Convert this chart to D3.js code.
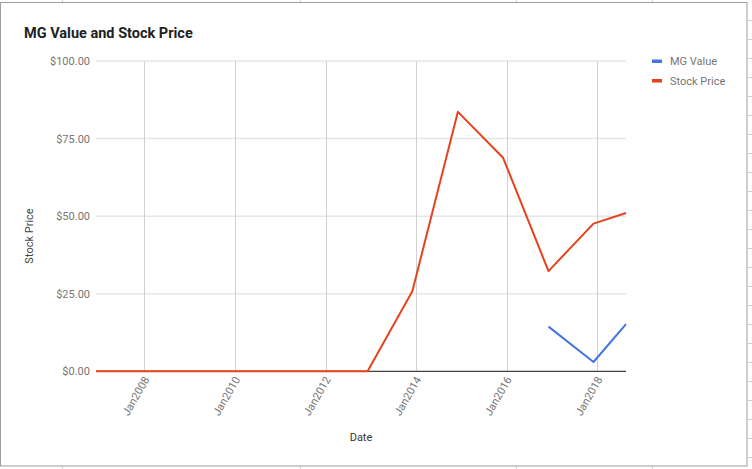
<!DOCTYPE html>
<html>
<head>
<meta charset="utf-8">
<script src="https://cdn.jsdelivr.net/npm/d3@7/dist/d3.min.js"></script>
<style>
  html, body { margin: 0; padding: 0; background: #fff; }
  svg { display: block; font-family: Roboto, "Noto Sans", Arial, sans-serif; }
</style>
</head>
<body>
<svg id="chart" width="752" height="469"></svg>
<script>
// ---- data ----
const dates = ["2006-12-07","2007-12-05","2008-12-05","2009-12-05","2010-12-05","2011-12-05",
               "2012-12-05","2013-12-01","2014-12-03","2015-12-03","2016-12-03","2017-12-01","2018-08-20"];
const stockPrice = [0, 0, 0, 0, 0, 0, 0, 25.8, 83.6, 68.8, 32.3, 47.6, 51.0];
const mgValue = [null, null, null, null, null, null, null, null, null, null, 14.4, 3.0, 15.2];
const yTicks = [0, 25, 50, 75, 100];
const xTickYears = [2008, 2010, 2012, 2014, 2016, 2018];
const seriesNames = ["MG Value", "Stock Price"];
const seriesColors = ["#4374e0", "#e4431d"];
const titleText = "MG Value and Stock Price";
const xTitle = "Date";
const yTitle = "Stock Price";

// ---- layout ----
const svg = d3.select("#chart");
const parse = d3.timeParse("%Y-%m-%d");
const parsedDates = dates.map(parse);
const plot = { left: 96, right: 626, top: 61, bottom: 371.3 };

// frame
svg.append("rect").attr("x", 0.5).attr("y", 2.5).attr("width", 746.5).attr("height", 463.5)
  .attr("fill", "#fff").attr("stroke", "#9e9e9e").attr("stroke-width", 1);
// decorative spreadsheet ticks outside frame
[62, 300, 516, 652].forEach(x => {
  svg.append("line").attr("x1", x + 0.5).attr("x2", x + 0.5).attr("y1", 0).attr("y2", 2)
    .attr("stroke", "#d0d0d0");
  svg.append("line").attr("x1", x + 0.5).attr("x2", x + 0.5).attr("y1", 467).attr("y2", 469)
    .attr("stroke", "#d0d0d0");
});
d3.range(20, 466, 19).forEach(y => {
  svg.append("line").attr("x1", 748).attr("x2", 752).attr("y1", y + 0.5).attr("y2", y + 0.5)
    .attr("stroke", "#d0d0d0");
});

const x = d3.scaleTime().domain(d3.extent(parsedDates)).range([plot.left, plot.right]);
const y = d3.scaleLinear().domain([0, 100]).range([plot.bottom, plot.top]);

// horizontal gridlines
svg.append("g").selectAll("line").data(yTicks.filter(d => d > 0)).join("line")
  .attr("x1", plot.left).attr("x2", plot.right)
  .attr("y1", d => y(d)).attr("y2", d => y(d))
  .attr("stroke", "#e6e6e6").attr("stroke-width", 1.5);

// vertical gridlines
const xTickDates = xTickYears.map(yr => new Date(yr, 0, 1));
svg.append("g").selectAll("line").data(xTickDates).join("line")
  .attr("x1", d => Math.round(x(d)) + 0.5).attr("x2", d => Math.round(x(d)) + 0.5)
  .attr("y1", plot.top).attr("y2", plot.bottom)
  .attr("stroke", "#d0d0d0").attr("stroke-width", 1);

// y axis labels
const yAxis = d3.axisLeft(y).tickValues(yTicks).tickSize(0).tickPadding(6)
  .tickFormat(d => "$" + d3.format(".2f")(d));
const gy = svg.append("g").attr("transform", `translate(${plot.left},0)`).call(yAxis);
gy.select(".domain").remove();
gy.selectAll("text").attr("fill", "#757575").style("font-size", "11px")
  .style("font-family", "Roboto, sans-serif");

// baseline
svg.append("line").attr("x1", plot.left).attr("x2", plot.right)
  .attr("y1", y(0)).attr("y2", y(0)).attr("stroke", "#424242").attr("stroke-width", 1.2);

// x axis labels
const xAxis = d3.axisBottom(x).tickValues(xTickDates).tickSize(0).tickPadding(0)
  .tickFormat(d3.timeFormat("%b%Y"));
const gx = svg.append("g").attr("transform", `translate(0,${plot.bottom})`).call(xAxis);
gx.select(".domain").remove();
gx.selectAll("text")
  .attr("fill", "#757575").style("font-size", "11px").style("font-family", "Roboto, sans-serif")
  .attr("text-anchor", "end").attr("dy", null).attr("y", 0)
  .attr("transform", "translate(5,8) rotate(-60)");

// lines
const series = [mgValue, stockPrice];
const lineGen = d3.line()
  .defined(d => d.v !== null)
  .x(d => x(d.t)).y(d => y(d.v));
series.forEach((vals, i) => {
  const pts = vals.map((v, j) => ({ t: parsedDates[j], v }));
  svg.append("path").datum(pts).attr("d", lineGen)
    .attr("fill", "none").attr("stroke", seriesColors[i]).attr("stroke-width", 2)
    .attr("stroke-linejoin", "round");
});

// title
svg.append("text").attr("x", 24).attr("y", 38).text(titleText)
  .attr("fill", "#222").style("font-size", "14.5px").style("font-weight", "bold");

// axis titles
svg.append("text").attr("x", 361).attr("y", 441).attr("text-anchor", "middle").text(xTitle)
  .attr("fill", "#333").style("font-size", "11px");
svg.append("text").attr("transform", "translate(33,236) rotate(-90)").attr("text-anchor", "middle")
  .text(yTitle).attr("fill", "#444").style("font-size", "11px");

// legend
const lg = svg.append("g");
seriesNames.forEach((name, i) => {
  const ly = 61 + i * 19.5;
  lg.append("rect").attr("x", 652).attr("y", ly - 1.5).attr("width", 10).attr("height", 3.5)
    .attr("fill", seriesColors[i]);
  lg.append("text").attr("x", 670).attr("y", ly + 4).text(name)
    .attr("fill", "#757575").style("font-size", "11px");
});
</script>
</body>
</html>
